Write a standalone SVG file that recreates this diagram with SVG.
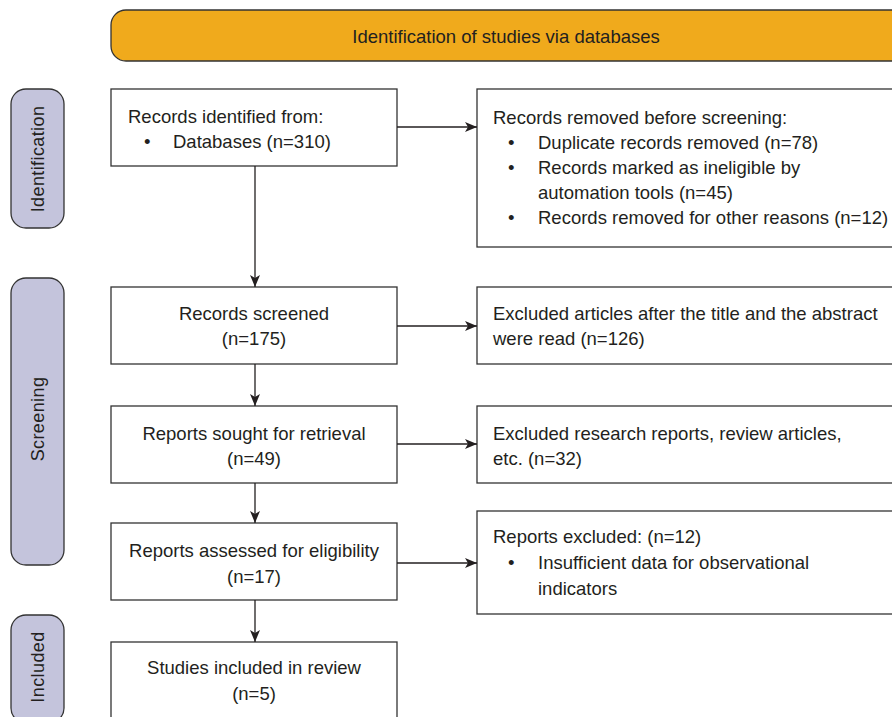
<svg xmlns="http://www.w3.org/2000/svg" width="892" height="717" viewBox="0 0 892 717">
<defs>
<style>
.box{fill:#fff;stroke:#333;stroke-width:1.3}
.pill{fill:#c4c4dc;stroke:#333;stroke-width:1.3}
.ban{fill:#f0aa1c;stroke:#333;stroke-width:1.3}
.t{font-family:"Liberation Sans",Arial,Helvetica,sans-serif;font-size:18.5px;fill:#231f20}
.c{text-anchor:middle}
.side{font-family:"Liberation Sans",Arial,Helvetica,sans-serif;font-size:18px;fill:#231f20;text-anchor:middle;letter-spacing:0.4px}
.ln{stroke:#231f20;stroke-width:1.3;fill:none}
</style>
<marker id="ah" viewBox="0 0 12 10" refX="12" refY="5" markerWidth="12" markerHeight="10" markerUnits="userSpaceOnUse" orient="auto">
<path d="M0,0 L12,5 L0,10 L3,5 Z" fill="#231f20"/>
</marker>
</defs>

<g id="banner">
<rect class="ban" x="111" y="10" width="800" height="51" rx="15"/>
<text class="t c" x="506" y="43">Identification of studies via databases</text>
</g>

<g id="side-identification">
<rect class="pill" x="11" y="89" width="53" height="139" rx="15"/>
<text class="side" transform="translate(44,159) rotate(-90)">Identification</text>
</g>
<g id="side-screening">
<rect class="pill" x="11" y="278" width="53" height="287" rx="15"/>
<text class="side" transform="translate(44,419) rotate(-90)">Screening</text>
</g>
<g id="side-included">
<rect class="pill" x="11" y="615" width="53" height="108" rx="15"/>
<text class="side" transform="translate(44,667) rotate(-90)">Included</text>
</g>

<g id="records-identified">
<rect class="box" x="111" y="89" width="286" height="77"/>
<text class="t" x="128" y="123">Records identified from:</text>
<text class="t" x="144" y="148">•</text>
<text class="t" x="173" y="148">Databases (n=310)</text>
</g>

<g id="records-removed">
<rect class="box" x="477" y="89" width="430" height="158"/>
<text class="t" x="493" y="124">Records removed before screening:</text>
<text class="t" x="508" y="149">•</text>
<text class="t" x="538" y="149">Duplicate records removed (n=78)</text>
<text class="t" x="508" y="174">•</text>
<text class="t" x="538" y="174">Records marked as ineligible by</text>
<text class="t" x="538" y="199">automation tools (n=45)</text>
<text class="t" x="508" y="224">•</text>
<text class="t" x="538" y="224">Records removed for other reasons (n=12)</text>
</g>

<g id="records-screened">
<rect class="box" x="111" y="287" width="286" height="77"/>
<text class="t c" x="254" y="320">Records screened</text>
<text class="t c" x="254" y="345">(n=175)</text>
</g>

<g id="excluded-articles">
<rect class="box" x="477" y="287" width="430" height="77"/>
<text class="t" x="493" y="320">Excluded articles after the title and the abstract</text>
<text class="t" x="493" y="345">were read (n=126)</text>
</g>

<g id="reports-sought">
<rect class="box" x="111" y="406" width="286" height="77"/>
<text class="t c" x="254" y="440">Reports sought for retrieval</text>
<text class="t c" x="254" y="465">(n=49)</text>
</g>

<g id="excluded-research">
<rect class="box" x="477" y="406" width="430" height="77"/>
<text class="t" x="493" y="440">Excluded research reports, review articles,</text>
<text class="t" x="493" y="465">etc. (n=32)</text>
</g>

<g id="reports-assessed">
<rect class="box" x="111" y="523" width="286" height="77"/>
<text class="t c" x="254" y="557">Reports assessed for eligibility</text>
<text class="t c" x="254" y="583">(n=17)</text>
</g>

<g id="reports-excluded">
<rect class="box" x="477" y="511" width="430" height="103"/>
<text class="t" x="493" y="543">Reports excluded: (n=12)</text>
<text class="t" x="508" y="569">•</text>
<text class="t" x="538" y="569">Insufficient data for observational</text>
<text class="t" x="538" y="595">indicators</text>
</g>

<g id="studies-included">
<rect class="box" x="111" y="642" width="286" height="90"/>
<text class="t c" x="254" y="674">Studies included in review</text>
<text class="t c" x="254" y="700">(n=5)</text>
</g>

<g id="connectors">
<line class="ln" x1="397" y1="127" x2="477" y2="127" marker-end="url(#ah)"/>
<line class="ln" x1="397" y1="326" x2="477" y2="326" marker-end="url(#ah)"/>
<line class="ln" x1="397" y1="444" x2="477" y2="444" marker-end="url(#ah)"/>
<line class="ln" x1="397" y1="563" x2="477" y2="563" marker-end="url(#ah)"/>
<line class="ln" x1="255" y1="166" x2="255" y2="287" marker-end="url(#ah)"/>
<line class="ln" x1="255" y1="364" x2="255" y2="406" marker-end="url(#ah)"/>
<line class="ln" x1="255" y1="483" x2="255" y2="523" marker-end="url(#ah)"/>
<line class="ln" x1="255" y1="600" x2="255" y2="642" marker-end="url(#ah)"/>
</g>
</svg>
